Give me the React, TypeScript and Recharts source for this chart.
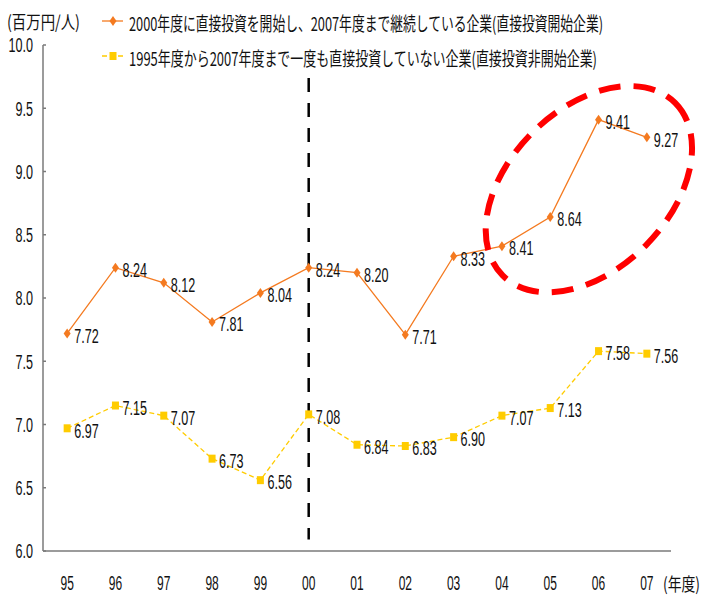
import React from "react";
import {
  LineChart,
  Line,
  XAxis,
  YAxis,
  LabelList,
  ReferenceLine,
  ReferenceDot,
} from "recharts";

const years = ["95", "96", "97", "98", "99", "00", "01", "02", "03", "04", "05", "06", "07"];
const startedInvesting = [7.72, 8.24, 8.12, 7.81, 8.04, 8.24, 8.2, 7.71, 8.33, 8.41, 8.64, 9.41, 9.27];
const neverInvested = [6.97, 7.15, 7.07, 6.73, 6.56, 7.08, 6.84, 6.83, 6.9, 7.07, 7.13, 7.58, 7.56];
const yTicks = [6, 6.5, 7, 7.5, 8, 8.5, 9, 9.5, 10];

const startedName = "2000年度に直接投資を開始し、2007年度まで継続している企業(直接投資開始企業)";
const neverName = "1995年度から2007年度まで一度も直接投資していない企業(直接投資非開始企業)";

const rows = years.map((year, i) => ({
  i,
  year,
  started: startedInvesting[i],
  never: neverInvested[i],
}));

const ORANGE = "#f47a20";
const YELLOW = "#ffcc00";
const AXIS = "#7a7a7a";
const NUM_FONT = "'Liberation Sans', Arial, sans-serif";
const JP_FONT = "'Noto Sans CJK JP', sans-serif";
const SQUEEZE = 0.6;

const edgeTicks = years.map((_, i) => i - 0.5).concat(years.length - 0.5);

// narrow numerals, squeezed horizontally
const NarrowText = ({ x, y, anchor, size = 21, children }: any) => (
  <text
    transform={`translate(${x},${y}) scale(${SQUEEZE},1)`}
    textAnchor={anchor}
    dominantBaseline="central"
    fontFamily={NUM_FONT}
    fontSize={size}
    fill="#111"
  >
    {children}
  </text>
);

const YTick = ({ x, y, payload }: any) => (
  <NarrowText x={x} y={y} anchor="end">
    {Number(payload.value).toFixed(1)}
  </NarrowText>
);

const XTick = ({ x, y, payload }: any) => (
  <NarrowText x={x} y={y} anchor="middle" size={20}>
    {years[payload.value]}
  </NarrowText>
);

const ValueLabel = ({ x, y, value }: any) => (
  <NarrowText x={x + 7} y={y + 2} anchor="start">
    {Number(value).toFixed(2)}
  </NarrowText>
);

const Diamond = ({ cx, cy }: any) =>
  cx == null ? null : (
    <path
      d={`M${cx},${cy - 5} L${cx + 3.5},${cy} L${cx},${cy + 5} L${cx - 3.5},${cy} Z`}
      fill={ORANGE}
    />
  );

const Square = ({ cx, cy }: any) =>
  cx == null ? null : <rect x={cx - 3.5} y={cy - 4} width={7} height={8} fill={YELLOW} />;

const Ellipse = ({ cx, cy }: any) => (
  <ellipse
    cx={cx}
    cy={cy}
    rx={122}
    ry={80}
    transform={`rotate(-45 ${cx} ${cy})`}
    fill="none"
    stroke="#ff0000"
    strokeWidth={6}
    strokeDasharray="22 13"
  />
);

const Legend = () => (
  <svg width={701} height={80} style={{ position: "absolute", left: 0, top: 0 }}>
    <text x={7} y={21} dominantBaseline="central" fontFamily={JP_FONT} fontSize={18} fill="#111"
      textLength={73} lengthAdjust="spacingAndGlyphs">
      (百万円/人)
    </text>
    <line x1={102} x2={123} y1={21} y2={21} stroke={ORANGE} strokeWidth={1.3} />
    <Diamond cx={113} cy={21} />
    <text x={129} y={22} dominantBaseline="central" fontFamily={JP_FONT} fontSize={19} fill="#111"
      textLength={474} lengthAdjust="spacingAndGlyphs">
      {startedName}
    </text>
    <line x1={102} x2={123} y1={56} y2={56} stroke={YELLOW} strokeWidth={1.3} strokeDasharray="5 3" />
    <Square cx={113} cy={56} />
    <text x={129} y={57} dominantBaseline="central" fontFamily={JP_FONT} fontSize={19} fill="#111"
      textLength={468} lengthAdjust="spacingAndGlyphs">
      {neverName}
    </text>
  </svg>
);

export default function App() {
  return (
    <div style={{ position: "absolute", left: 0, top: 0, width: 701, height: 595, background: "#fff" }}>
      <LineChart
        width={701}
        height={595}
        data={rows}
        margin={{ top: 45, right: 30, bottom: 0, left: 0 }}
      >
        <XAxis
          dataKey="i"
          type="number"
          domain={[-0.5, 12.5]}
          ticks={years.map((_, i) => i)}
          interval={0}
          height={44}
          tickLine={false}
          tickSize={0}
          tickMargin={32}
          tick={<XTick />}
          axisLine={{ stroke: AXIS, strokeWidth: 1.5 }}
        />
        <XAxis
          xAxisId="edge"
          dataKey="i"
          type="number"
          domain={[-0.5, 12.5]}
          ticks={edgeTicks}
          interval={0}
          orientation="bottom"
          mirror
          height={0}
          tick={false}
          tickSize={5}
          tickLine={{ stroke: AXIS, strokeWidth: 1.5 }}
          axisLine={false}
        />
        <YAxis
          domain={[6, 10]}
          ticks={yTicks}
          interval={0}
          width={43}
          tickSize={-3}
          tickMargin={13}
          tick={<YTick />}
          tickLine={{ stroke: AXIS, strokeWidth: 1.5 }}
          axisLine={{ stroke: AXIS, strokeWidth: 1.5 }}
        />
        <ReferenceLine
          segment={[
            { x: 5, y: 9.74 },
            { x: 5, y: 6.09 },
          ]}
          stroke="#000"
          strokeWidth={2.5}
          strokeDasharray="14 11"
        />
        <Line
          dataKey="never"
          stroke={YELLOW}
          strokeWidth={1.3}
          strokeDasharray="5 3"
          dot={<Square />}
          activeDot={false}
          isAnimationActive={false}
        >
          <LabelList dataKey="never" content={<ValueLabel />} />
        </Line>
        <Line
          dataKey="started"
          stroke={ORANGE}
          strokeWidth={1.3}
          dot={<Diamond />}
          activeDot={false}
          isAnimationActive={false}
        >
          <LabelList dataKey="started" content={<ValueLabel />} />
        </Line>
        <ReferenceDot x={10.8} y={8.86} r={0} shape={<Ellipse />} ifOverflow="visible" />
      </LineChart>
      <Legend />
      <svg width={701} height={595} style={{ position: "absolute", left: 0, top: 0, pointerEvents: "none" }}>
        <text x={663} y={583} dominantBaseline="central" fontFamily={JP_FONT} fontSize={18} fill="#111"
          textLength={37} lengthAdjust="spacingAndGlyphs">
          (年度)
        </text>
      </svg>
    </div>
  );
}
